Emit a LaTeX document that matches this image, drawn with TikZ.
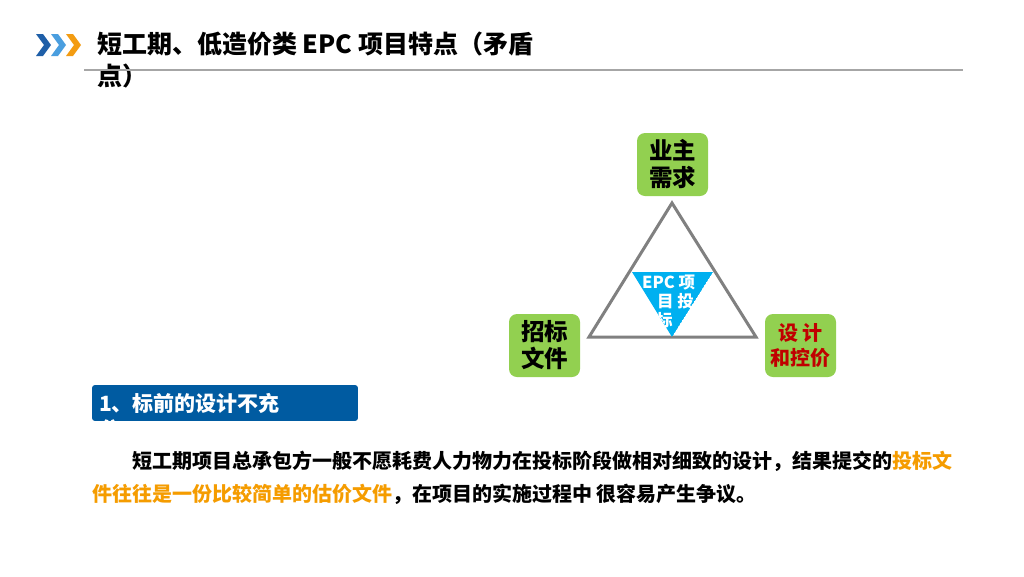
\documentclass[tikz,border=0pt]{standalone}
\usepackage{fontspec}
\setmainfont{Noto Sans CJK SC}
\usetikzlibrary{positioning}
\definecolor{ink}      {HTML}{000000}
\definecolor{leaf}     {HTML}{92D050}
\definecolor{crimson}  {HTML}{C00000}
\definecolor{sky}      {HTML}{00B0F0}
\definecolor{navy}     {HTML}{005BA1}
\definecolor{tangerine}{HTML}{F59C00}
\definecolor{steel}    {HTML}{808080}
\definecolor{chevA}    {HTML}{1F5FA8}
\definecolor{chevB}    {HTML}{4A9EDF}
\definecolor{chevC}    {HTML}{F39C12}
\tikzset{
  every node/.style={inner sep=0pt},
  % --- nodes
  headline/.style = {anchor=west, align=left, text=ink,
                     font=\fontsize{25}{32}\selectfont\bfseries},
  party/.style    = {rounded corners=8pt, fill=leaf, align=center,
                     minimum width=71pt, minimum height=63pt,
                     font=\fontsize{23.5}{27}\selectfont\bfseries},
  redparty/.style = {party, text=crimson, font=\fontsize{20}{25}\selectfont\bfseries},
  core/.style     = {anchor=west, align=left, text=white,
                     font=\fontsize{16.5}{19}\selectfont\bfseries},
  tag/.style      = {anchor=west, align=left, text=white,
                     font=\fontsize{21}{26}\selectfont\bfseries},
  body/.style     = {anchor=west, align=left, text=ink,
                     font=\fontsize{20}{33}\selectfont\bfseries},
  % --- lines
  rule/.style     = {draw=steel!70, line width=1.2pt},
  frame/.style    = {draw=steel, line width=3pt, line join=miter},
}
\begin{document}
\begin{tikzpicture}[x=1pt,y=-1pt]
  \useasboundingbox[fill=white] (0,0) rectangle (1024,576);
  % title
  \foreach \a/\c in {36/chevA,51/chevB,66/chevC}
    \fill[\c] (\a,34) -- (\a+7,34) -- (\a+15,45) -- (\a+7,56) -- (\a,56) -- (\a+8,45) -- cycle;
  \node[headline] (title) at (97,60) {短工期、低造价类 EPC 项目特点（矛盾\\点）};
  \draw[rule] (84,70) -- (963,70);
  % triangle of parties
  \draw[frame] (672,203) -- (756,337) -- (589,337) -- cycle;
  \begin{scope}
    \clip (632,272) -- (713,272) -- (672,337) -- cycle;
    \fill[sky] (632,272) -- (713,272) -- (672,337) -- cycle;
    \node[core] (epc) at (642,302) {EPC 项\\\hspace*{15pt}目 投\\\hspace*{14pt}标};
  \end{scope}
  \node[party] (owner) at (672.5,164.5) {业主\\需求};
  \node[party] (bid) at (544.5,345.5) {招标\\文件};
  \node[redparty] (design) at (800.5,345.5) {设 计\\和控价};
  % point one
  \begin{scope}
    \clip[rounded corners=3pt] (92,385) rectangle (358,421);
    \fill[navy] (92,385) rectangle (358,421);
    \node[tag] (point) at (99,416) {1、标前的设计不充\\分};
  \end{scope}
  \node[body] (text) at (92,478) {\hspace*{40pt}短工期项目总承包方一般不愿耗费人力物力在投标阶段做相对细致的设计，结果提交的\textcolor{tangerine}{投标文}\\\textcolor{tangerine}{件往往是一份比较简单的估价文件}，在项目的实施过程中 很容易产生争议。};
\end{tikzpicture}
\end{document}
